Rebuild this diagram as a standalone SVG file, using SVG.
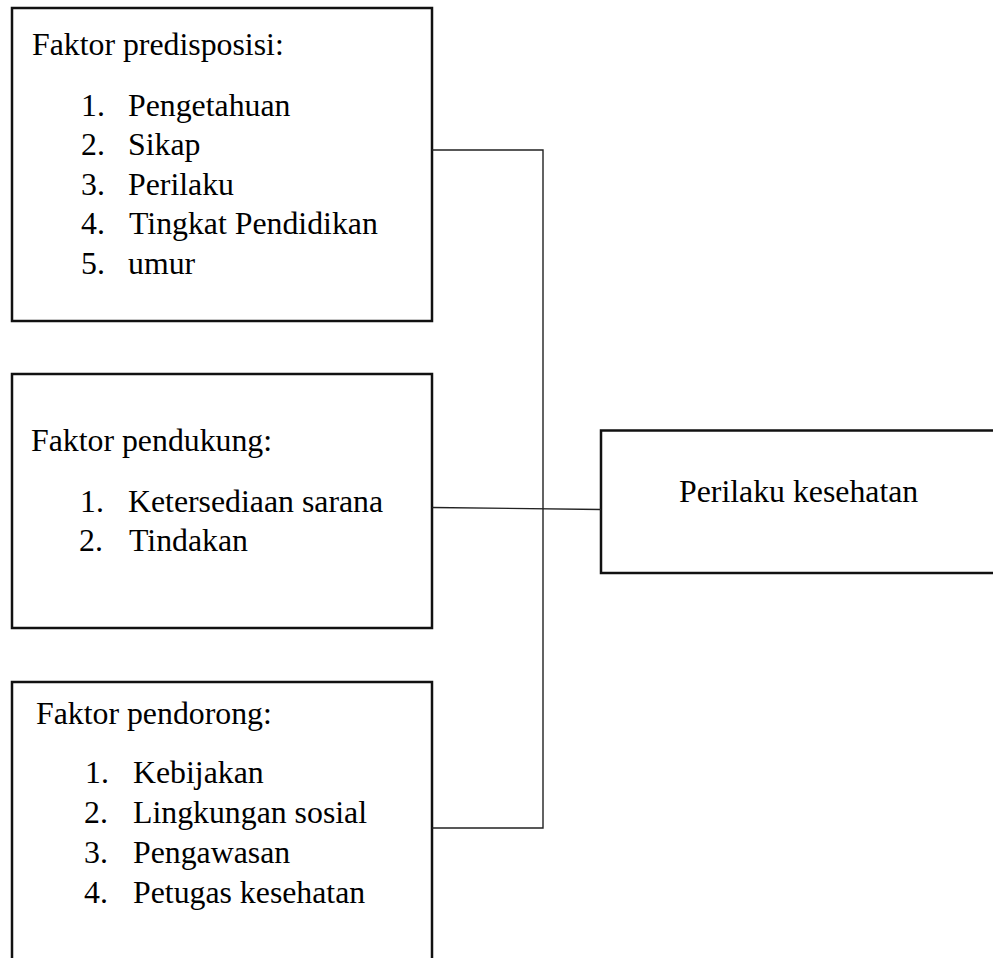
<svg xmlns="http://www.w3.org/2000/svg" width="993" height="958" viewBox="0 0 993 958">
<style>
.box{fill:#fff;stroke:#111;stroke-width:2.5}
.t{font-family:"Liberation Serif","Times New Roman",serif;font-size:31.8px;fill:#000}
.c{fill:none;stroke:#222;stroke-width:1.4}
</style>
<rect x="0" y="0" width="993" height="958" fill="#fff"/>
<g id="node-predisposisi">
<rect class="box" x="12" y="8" width="420" height="313"/>
<text class="t" x="32" y="55">Faktor predisposisi:</text>
<text class="t" x="81" y="115.5">1.</text><text class="t" x="128" y="115.5">Pengetahuan</text>
<text class="t" x="81" y="155">2.</text><text class="t" x="128" y="155">Sikap</text>
<text class="t" x="81" y="194.5">3.</text><text class="t" x="128" y="194.5">Perilaku</text>
<text class="t" x="81" y="234">4.</text><text class="t" x="129" y="234">Tingkat Pendidikan</text>
<text class="t" x="81" y="273.5">5.</text><text class="t" x="128" y="273.5">umur</text>
</g>
<g id="node-pendukung">
<rect class="box" x="12" y="374" width="420" height="254"/>
<text class="t" x="31" y="451">Faktor pendukung:</text>
<text class="t" x="80" y="512">1.</text><text class="t" x="128" y="512">Ketersediaan sarana</text>
<text class="t" x="79" y="551">2.</text><text class="t" x="129" y="551">Tindakan</text>
</g>
<g id="node-pendorong">
<rect class="box" x="12" y="682" width="420" height="300"/>
<text class="t" x="36" y="724">Faktor pendorong:</text>
<text class="t" x="85" y="783">1.</text><text class="t" x="133" y="783">Kebijakan</text>
<text class="t" x="84" y="823">2.</text><text class="t" x="133" y="823">Lingkungan sosial</text>
<text class="t" x="84" y="863">3.</text><text class="t" x="133" y="863">Pengawasan</text>
<text class="t" x="84" y="903">4.</text><text class="t" x="133" y="903">Petugas kesehatan</text>
</g>
<g id="node-perilaku">
<rect class="box" x="601" y="430.5" width="400" height="142.5"/>
<text class="t" x="679" y="502">Perilaku kesehatan</text>
</g>
<g id="connectors">
<polyline class="c" points="432,150 543,150 543,828 432,828"/>
<line class="c" x1="432" y1="507.5" x2="601" y2="509.5"/>
</g>
</svg>
